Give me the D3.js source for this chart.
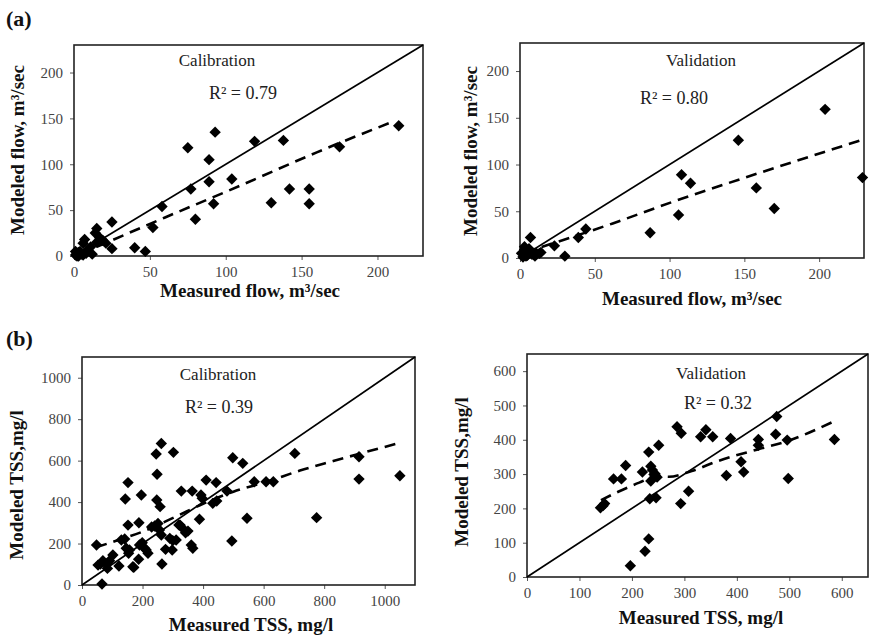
<!DOCTYPE html>
<html>
<head>
<meta charset="utf-8">
<script src="https://cdn.jsdelivr.net/npm/d3@7"></script>
<style>
  body { margin: 0; background: #fff; }
  svg { display: block; }
</style>
</head>
<body>
<svg id="fig" width="870" height="637"></svg>
<script>
// ---- Flow, calibration period (m3/sec) ----
const flowCalMeasured = [214,175,138,119,93,75,89,89,104,77,142,155,155,130,92,80,58,52,47,40,25,25,21,15,14,17,15,7,6,11,12,9,1,2,3,4,5,2,3,6,8,19,1];
const flowCalModeled  = [142,119,126,125,135,118,105,81,84,73,73,73,57,58,57,40,54,31,5,9,37,8,14,30,25,20,15,18,14,10,2,7,1,3,0,5,2,0,4,1,3,17,5];
const flowCalTrendX = [15,60,110,160,211];
const flowCalTrendY = [10,42,77,113,147];

// ---- Flow, validation period (m3/sec) ----
const flowValMeasured = [204,146,108,114,106,158,170,229,87,44,39,23,30,7,1,3,4,7,8,9,11,13,14,2,5,3,6,10];
const flowValModeled  = [159,126,89,80,46,75,53,86,27,31,22,13,2,22,5,9,2,7,4,5,5,5,6,1,3,12,10,2];
const flowValTrendX = [3,62,102,160,230];
const flowValTrendY = [6,37,60,91,127];

// ---- TSS, calibration period (mg/l) ----
const tssCalMeasured = [1050,915,915,775,703,632,608,569,545,531,498,495,479,443,410,432,393,388,397,364,328,302,262,245,248,152,143,196,247,258,152,188,141,130,146,157,154,190,199,207,218,171,187,240,251,256,262,264,276,298,300,311,324,333,342,361,366,102,122,91,80,48,61,66,69,53,84,168,212,230,290,320,350,445];
const tssCalModeled  = [527,619,511,325,635,498,498,498,322,587,614,212,453,494,506,394,434,317,418,453,453,640,683,632,534,494,415,434,410,378,289,300,222,217,177,169,153,193,204,177,153,85,124,285,297,265,241,101,172,169,214,217,289,273,252,193,177,145,92,117,101,193,101,5,117,96,80,88,169,280,225,290,260,405];
const tssCalTrendX = [47,120,200,310,400,500,610,720,830,1042];
const tssCalTrendY = [182,217,257,330,392,450,498,552,598,683];

// ---- TSS, validation period (mg/l) ----
const tssValMeasured = [140,148,145,165,180,188,197,220,232,236,234,246,239,242,236,244,248,251,225,232,286,294,293,308,331,341,354,380,388,408,413,441,441,476,474,496,498,586];
const tssValModeled  = [202,214,208,286,286,325,33,306,364,280,228,231,312,299,323,301,291,384,75,111,438,419,214,250,409,429,409,296,404,336,306,401,384,468,416,399,287,401];
const tssValTrendX = [141,176,214,250,270,314,364,440,496,587];
const tssValTrendY = [224,250,275,295,292,309,338,372,396,455];

// ---- Axis ticks ----
const flowTicks = [0, 50, 100, 150, 200];
const tssCalTicks = [0, 200, 400, 600, 800, 1000];
const tssValTicks = [0, 100, 200, 300, 400, 500, 600];

const FONT = "'Liberation Serif', 'Times New Roman', serif";
const svg = d3.select("#fig");

const zipPts = (xs, ys) => xs.map((x, i) => [x, ys[i]]);

const panels = [
  { box: {l: 74, r: 423, t: 45, b: 256}, max: 230, ticks: flowTicks,
    pts: zipPts(flowCalMeasured, flowCalModeled), trend: zipPts(flowCalTrendX, flowCalTrendY),
    name: "Calibration", nameAt: [217, 66], r2: "0.79", r2At: [243, 99],
    xTitle: "Measured flow, m\u00B3/sec", xTitleAt: [250, 297],
    yTitle: "Modeled flow, m\u00B3/sec", yTitleAt: [24, 150] },
  { box: {l: 520, r: 864, t: 43, b: 258}, max: 230, ticks: flowTicks,
    pts: zipPts(flowValMeasured, flowValModeled), trend: zipPts(flowValTrendX, flowValTrendY),
    name: "Validation", nameAt: [701, 66], r2: "0.80", r2At: [674, 104],
    xTitle: "Measured flow, m\u00B3/sec", xTitleAt: [692, 305],
    yTitle: "Modeled flow, m\u00B3/sec", yTitleAt: [477, 151] },
  { box: {l: 82, r: 415, t: 357, b: 585}, max: 1100, ticks: tssCalTicks,
    pts: zipPts(tssCalMeasured, tssCalModeled), trend: zipPts(tssCalTrendX, tssCalTrendY),
    name: "Calibration", nameAt: [218, 380], r2: "0.39", r2At: [219, 413],
    xTitle: "Measured TSS, mg/l", xTitleAt: [251, 631],
    yTitle: "Modeled TSS,mg/l", yTitleAt: [23, 485] },
  { box: {l: 527, r: 868, t: 354, b: 577}, max: 650, ticks: tssValTicks,
    pts: zipPts(tssValMeasured, tssValModeled), trend: zipPts(tssValTrendX, tssValTrendY),
    name: "Validation", nameAt: [711, 379], r2: "0.32", r2At: [718, 409],
    xTitle: "Measured TSS, mg/l", xTitleAt: [701, 624],
    yTitle: "Modeled TSS,mg/l", yTitleAt: [468, 472] }
];

const diamond = r => `M0,${-r}L${r},0L0,${r}L${-r},0Z`;
const intFmt = d3.format("d");

panels.forEach(p => {
  const x = d3.scaleLinear().domain([0, p.max]).range([p.box.l, p.box.r]);
  const y = d3.scaleLinear().domain([0, p.max]).range([p.box.b, p.box.t]);
  const g = svg.append("g");

  // axes with outward ticks
  const xa = g.append("g").attr("transform", `translate(0,${p.box.b})`)
    .call(d3.axisBottom(x).tickValues(p.ticks).tickFormat(intFmt).tickSize(4).tickPadding(6));
  const ya = g.append("g").attr("transform", `translate(${p.box.l},0)`)
    .call(d3.axisLeft(y).tickValues(p.ticks).tickFormat(intFmt).tickSize(4).tickPadding(7));
  [xa, ya].forEach(a => {
    a.attr("font-family", FONT);
    a.select(".domain").remove();
    a.selectAll("line").attr("stroke", "#555");
    a.selectAll("text").attr("font-family", FONT).attr("font-size", 15).attr("fill", "#444");
  });

  // plot frame
  g.append("rect")
    .attr("x", p.box.l).attr("y", p.box.t)
    .attr("width", p.box.r - p.box.l).attr("height", p.box.b - p.box.t)
    .attr("fill", "none").attr("stroke", "#222").attr("stroke-width", 1.6);

  // 1:1 line
  g.append("line")
    .attr("x1", x(0)).attr("y1", y(0)).attr("x2", x(p.max)).attr("y2", y(p.max))
    .attr("stroke", "#000").attr("stroke-width", 1.7);

  // observations
  g.append("g").selectAll("path").data(p.pts).join("path")
    .attr("d", diamond(5.7))
    .attr("transform", d => `translate(${x(d[0])},${y(d[1])})`)
    .attr("fill", "#000");

  // trend line
  g.append("path")
    .datum(p.trend)
    .attr("d", d3.line().x(d => x(d[0])).y(d => y(d[1])).curve(d3.curveMonotoneX))
    .attr("fill", "none").attr("stroke", "#000").attr("stroke-width", 2.6)
    .attr("stroke-dasharray", "11,7");

  // annotations
  g.append("text").attr("x", p.nameAt[0]).attr("y", p.nameAt[1])
    .attr("text-anchor", "middle").attr("font-family", FONT).attr("font-size", 17)
    .attr("fill", "#222").text(p.name);
  g.append("text").attr("x", p.r2At[0]).attr("y", p.r2At[1])
    .attr("text-anchor", "middle").attr("font-family", FONT).attr("font-size", 18)
    .attr("fill", "#222").text(`R\u00B2 = ${p.r2}`);

  // axis titles
  g.append("text").attr("x", p.xTitleAt[0]).attr("y", p.xTitleAt[1])
    .attr("text-anchor", "middle").attr("font-family", FONT).attr("font-size", 19)
    .attr("font-weight", "bold").attr("fill", "#111").text(p.xTitle);
  g.append("text")
    .attr("transform", `translate(${p.yTitleAt[0]},${p.yTitleAt[1]}) rotate(-90)`)
    .attr("text-anchor", "middle").attr("font-family", FONT).attr("font-size", 19)
    .attr("font-weight", "bold").attr("fill", "#111").text(p.yTitle);
});

// panel letters
[["(a)", 6, 26], ["(b)", 6, 346]].forEach(([t, px, py]) => {
  svg.append("text").attr("x", px).attr("y", py)
    .attr("font-family", FONT).attr("font-size", 22).attr("font-weight", "bold")
    .attr("fill", "#111").text(t);
});
</script>
</body>
</html>
